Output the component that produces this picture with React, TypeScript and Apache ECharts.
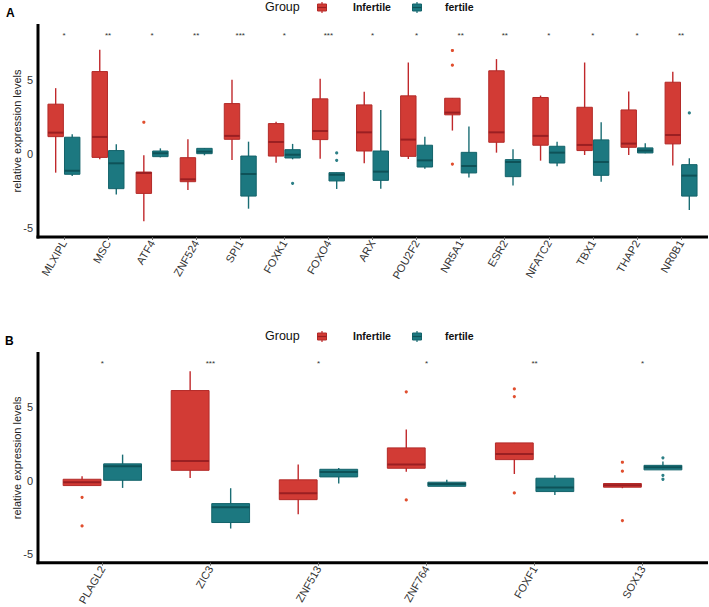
import React, { useEffect, useRef } from "react";
import * as echarts from "echarts";

// ---------- DATA ----------
const genesA = ["MLXIPL", "MSC", "ATF4", "ZNF524", "SPI1", "FOXK1", "FOXO4", "ARX", "POU2F2", "NR5A1", "ESR2", "NFATC2", "TBX1", "THAP2", "NR0B1"];
const starsA = ["*", "**", "*", "**", "***", "*", "***", "*", "*", "**", "**", "*", "*", "*", "**"];
// [lower whisker, Q1, median, Q3, upper whisker]
const infertileA = [
  [-1.26, 1.17, 1.44, 3.36, 4.44],
  [-0.36, -0.23, 1.15, 5.56, 7.03],
  [-4.53, -2.66, -1.28, -1.22, -0.09],
  [-2.43, -1.87, -1.71, -0.25, 0.99],
  [-0.41, 0.99, 1.22, 3.4, 5.0],
  [-0.59, -0.14, 0.81, 2.05, 2.18],
  [-0.32, 0.97, 1.55, 3.72, 5.07],
  [-0.63, 0.2, 1.46, 3.31, 4.19],
  [-0.34, -0.16, 0.97, 3.92, 6.17],
  [1.58, 2.64, 2.79, 3.76, 3.76],
  [0.09, 0.79, 1.46, 5.61, 6.4],
  [-0.45, 0.59, 1.22, 3.81, 3.94],
  [-0.07, 0.23, 0.61, 3.15, 6.17],
  [-0.07, 0.45, 0.7, 2.97, 4.21],
  [-0.77, 0.68, 1.28, 4.84, 5.54],
];
const fertileA = [
  [-1.49, -1.37, -1.13, 1.13, 1.33],
  [-2.73, -2.34, -0.63, 0.23, 0.65],
  [-0.23, -0.18, 0.05, 0.2, 0.38],
  [-0.09, 0.02, 0.16, 0.38, 0.4],
  [-3.69, -2.84, -1.35, -0.14, 0.83],
  [-0.36, -0.27, -0.05, 0.29, 0.68],
  [-2.36, -1.82, -1.4, -1.26, -1.26],
  [-2.34, -1.78, -1.19, 0.2, 2.97],
  [-0.99, -0.88, -0.43, 0.59, 1.17],
  [-1.58, -1.28, -0.81, 0.11, 1.85],
  [-2.12, -1.53, -0.54, -0.38, 0.32],
  [-0.83, -0.61, 0.09, 0.52, 0.83],
  [-1.87, -1.44, -0.54, 0.95, 2.14],
  [0.05, 0.07, 0.23, 0.41, 0.72],
  [-3.78, -2.84, -1.46, -0.72, -0.29],
];
const infertileOutliersA: [string, number][] = [
  ["ATF4", 2.14],
  ["NR5A1", 6.98],
  ["NR5A1", 5.99],
  ["NR5A1", -0.68],
];
const fertileOutliersA: [string, number][] = [
  ["FOXK1", -1.98],
  ["FOXO4", 0.07],
  ["FOXO4", -0.43],
  ["NR0B1", 2.77],
];

const genesB = ["PLAGL2", "ZIC3", "ZNF513", "ZNF764", "FOXF1", "SOX13"];
const starsB = ["*", "***", "*", "*", "**", "*"];
const infertileB = [
  [-0.34, -0.34, -0.11, 0.09, 0.3],
  [0.18, 0.7, 1.34, 6.14, 7.45],
  [-2.3, -1.3, -0.86, 0.05, 1.09],
  [0.61, 0.84, 1.09, 2.23, 3.48],
  [0.45, 1.43, 1.82, 2.57, 2.57],
  [-0.52, -0.45, -0.32, -0.2, -0.2],
];
const fertileB = [
  [-0.5, 0.02, 0.98, 1.14, 1.77],
  [-3.27, -2.86, -1.82, -1.57, -0.52],
  [-0.2, 0.25, 0.59, 0.77, 0.86],
  [-0.39, -0.39, -0.23, -0.11, 0.05],
  [-0.98, -0.75, -0.48, 0.16, 0.36],
  [0.73, 0.73, 0.91, 1.04, 1.3],
];
const infertileOutliersB: [string, number][] = [
  ["PLAGL2", -1.14],
  ["PLAGL2", -3.09],
  ["ZNF764", 6.05],
  ["ZNF764", -1.32],
  ["FOXF1", 6.25],
  ["FOXF1", 5.73],
  ["FOXF1", -0.84],
  ["SOX13", 1.25],
  ["SOX13", 0.64],
  ["SOX13", -2.73],
];
const fertileOutliersB: [string, number][] = [
  ["SOX13", 1.55],
  ["SOX13", 0.36],
  ["SOX13", 0.09],
];

const groups = ["Infertile", "fertile"];
const yTicks = [-5, 0, 5];

// ---------- STYLE ----------
const FONT = '"Liberation Sans", Arial, Helvetica, sans-serif';
const STAR_Y = 8.0;
const Y_MIN = -5.6;
const Y_MAX = 8.7;
const DODGE = 0.1875;
const HALF_W = 0.175;
const RED = { fill: "#D23B35", stroke: "#B32A28", median: "#9A1F22", whisker: "#C0282B", outlier: "#E04E2E" };
const TEAL = { fill: "#1C7880", stroke: "#13636A", median: "#0E5258", whisker: "#1A6D74", outlier: "#2C7F86" };

function boxRender(offset: number, c: typeof RED) {
  return (params: any, api: any) => {
    const idx = api.value(0);
    const band = api.size([1, 0])[0];
    const cx = api.coord([idx, 0])[0] + offset * band;
    const hw = HALF_W * band;
    const y = (d: number) => api.coord([idx, api.value(d)])[1];
    const lo = y(1), q1 = y(2), med = y(3), q3 = y(4), hi = y(5);
    return {
      type: "group",
      children: [
        { type: "line", shape: { x1: cx, y1: lo, x2: cx, y2: hi }, style: { stroke: c.whisker, lineWidth: 1.4 } },
        { type: "rect", shape: { x: cx - hw, y: q3, width: 2 * hw, height: Math.max(q1 - q3, 0.5) }, style: { fill: c.fill, stroke: c.stroke, lineWidth: 1 } },
        { type: "line", shape: { x1: cx - hw, y1: med, x2: cx + hw, y2: med }, style: { stroke: c.median, lineWidth: 2 } },
      ],
    };
  };
}

function pointRender(offset: number, color: string) {
  return (params: any, api: any) => {
    const idx = api.value(0);
    const band = api.size([1, 0])[0];
    const p = api.coord([idx, api.value(1)]);
    return { type: "circle", shape: { cx: p[0] + offset * band, cy: p[1], r: 1.6 }, style: { fill: color } };
  };
}

function starRender(stars: string[]) {
  return (params: any, api: any) => {
    const idx = api.value(0);
    const p = api.coord([idx, STAR_Y]);
    return {
      type: "text",
      x: p[0],
      y: p[1],
      style: { text: stars[idx], fill: "#333", font: `8px ${FONT}`, align: "center", verticalAlign: "middle" },
    };
  };
}

function panelSeries(axis: number, genes: string[], stars: string[], inf: number[][], fer: number[][], infOut: [string, number][], ferOut: [string, number][]) {
  const common = { xAxisIndex: axis, yAxisIndex: axis, silent: true, clip: false };
  return [
    { ...common, type: "custom", name: groups[0], renderItem: boxRender(-DODGE, RED), data: inf.map((s, i) => [i, ...s]), encode: { x: 0, y: [1, 2, 3, 4, 5] } },
    { ...common, type: "custom", name: groups[1], renderItem: boxRender(DODGE, TEAL), data: fer.map((s, i) => [i, ...s]), encode: { x: 0, y: [1, 2, 3, 4, 5] } },
    { ...common, type: "custom", renderItem: pointRender(-DODGE, RED.outlier), data: infOut.map(([g, v]) => [genes.indexOf(g), v]), encode: { x: 0, y: 1 } },
    { ...common, type: "custom", renderItem: pointRender(DODGE, TEAL.outlier), data: ferOut.map(([g, v]) => [genes.indexOf(g), v]), encode: { x: 0, y: 1 } },
    { ...common, type: "custom", renderItem: starRender(stars), data: genes.map((g, i) => [i, STAR_Y]), encode: { x: 0, y: 1 } },
  ];
}

function legendGraphics(yc: number) {
  const key = (x: number, c: typeof RED) => [
    { type: "line", shape: { x1: x, y1: yc - 5, x2: x, y2: yc + 6 }, style: { stroke: c.whisker, lineWidth: 1.2 } },
    { type: "rect", shape: { x: x - 4.5, y: yc - 3, width: 9, height: 7 }, style: { fill: c.fill, stroke: c.stroke, lineWidth: 1 } },
    { type: "line", shape: { x1: x - 4.5, y1: yc + 0.5, x2: x + 4.5, y2: yc + 0.5 }, style: { stroke: c.median, lineWidth: 1.2 } },
  ];
  return [
    { type: "text", x: 265, y: yc, style: { text: "Group", fill: "#111", font: `12.5px ${FONT}`, verticalAlign: "middle" } },
    ...key(322, RED),
    { type: "text", x: 353, y: yc, style: { text: groups[0], fill: "#111", font: `bold 10.5px ${FONT}`, verticalAlign: "middle" } },
    ...key(417, TEAL),
    { type: "text", x: 445, y: yc, style: { text: groups[1], fill: "#111", font: `bold 10.5px ${FONT}`, verticalAlign: "middle" } },
  ];
}

function axisLines(top: number, bottom: number) {
  return [
    { type: "line", shape: { x1: 38, y1: top, x2: 38, y2: bottom + 1.5 }, style: { stroke: "#000", lineWidth: 3 } },
    { type: "line", shape: { x1: 36.5, y1: bottom, x2: 708, y2: bottom }, style: { stroke: "#000", lineWidth: 3 } },
  ];
}

function xAxisCfg(gridIndex: number, data: string[]) {
  return {
    type: "category",
    gridIndex,
    data,
    position: "bottom",
    boundaryGap: true,
    axisLine: { show: false, onZero: false },
    axisTick: { show: true, alignWithLabel: true, length: 3, lineStyle: { color: "#666", width: 1 } },
    axisLabel: { rotate: 60, margin: 4, fontSize: 11, fontFamily: FONT, color: "#333" },
    splitLine: { show: false },
  };
}

function yAxisCfg(gridIndex: number, offset: number) {
  return {
    type: "value",
    gridIndex,
    min: Y_MIN,
    max: Y_MAX,
    offset,
    position: "left",
    name: "relative expression levels",
    nameLocation: "middle",
    nameRotate: 90,
    nameGap: 16,
    nameMoveOverlap: false,
    nameTextStyle: { fontSize: 11, fontFamily: FONT, color: "#222" },
    axisLine: { show: false, onZero: false },
    axisTick: { show: false },
    splitLine: { show: false },
    axisLabel: { customValues: yTicks, margin: 5, fontSize: 11, fontFamily: FONT, color: "#333" },
  };
}

export default function App() {
  const ref = useRef<HTMLDivElement>(null);
  useEffect(() => {
    document.body.style.margin = "0";
    if (!ref.current) return;
    const chart = echarts.init(ref.current, null, { renderer: "svg" });
    const gridA = { left: 41.9, right: 5.9, top: 25, height: 212, containLabel: false, outerBoundsMode: "none" };
    const gridB = { left: 48.3, right: 12.3, top: 353, height: 209.7, containLabel: false, outerBoundsMode: "none" };
    chart.setOption({
      animation: false,
      backgroundColor: "#fff",
      grid: [gridA, gridB],
      xAxis: [xAxisCfg(0, genesA), xAxisCfg(1, genesB)],
      yAxis: [yAxisCfg(0, 41.9 - 38), yAxisCfg(1, 48.3 - 38)],
      series: [
        ...panelSeries(0, genesA, starsA, infertileA, fertileA, infertileOutliersA, fertileOutliersA),
        ...panelSeries(1, genesB, starsB, infertileB, fertileB, infertileOutliersB, fertileOutliersB),
      ],
      graphic: [
        ...axisLines(24, 237),
        ...axisLines(352, 562.7),
        ...legendGraphics(7),
        ...legendGraphics(336),
        { type: "text", x: 6, y: 13, style: { text: "A", fill: "#000", font: `bold 12px ${FONT}`, verticalAlign: "middle" } },
        { type: "text", x: 5, y: 341, style: { text: "B", fill: "#000", font: `bold 12px ${FONT}`, verticalAlign: "middle" } },
      ],
    });
    return () => chart.dispose();
  }, []);
  return <div ref={ref} style={{ width: 709, height: 607 }} />;
}
